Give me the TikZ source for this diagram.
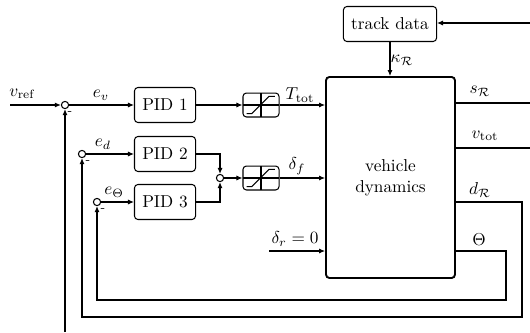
\documentclass[tikz,border=0pt]{standalone}
\usepackage{amsmath}
\usepackage{amssymb}
\usetikzlibrary{arrows.meta}
\tikzset{
  block/.style={draw, rounded corners=2pt, minimum width=35.4pt, minimum height=20.3pt, inner sep=0pt},
  sumnode/.style={draw, circle, minimum size=4.2pt, inner sep=0pt},
  satblock/.style={draw, rounded corners=2pt, minimum width=20.9pt, minimum height=13.9pt, inner sep=0pt,
    path picture={
      \draw[sharp corners] (path picture bounding box.west) -- (path picture bounding box.east);
      \draw[sharp corners] (path picture bounding box.north) -- (path picture bounding box.south);
      \draw[sharp corners] ([shift={(-8.4pt,-5pt)}]path picture bounding box.center) -- ++(3pt,0pt) -- ++(10pt,10pt) -- ++(3.5pt,0pt);
    }},
  minus/.style={font=\scriptsize, inner sep=0pt},
}

\begin{document}
\begin{tikzpicture}[x=0.58pt, y=-0.58pt, semithick, >={Latex[length=3.5pt,width=3pt]}]
	\useasboundingbox (0,0) rectangle (530,332);
	
	% blocks
	\node[block, minimum width=54pt] (track) at (390,24) {track data};
	\node[draw, rounded corners=2pt, line width=1.1pt, minimum width=74.8pt, minimum height=116.6pt, align=center] (veh) at (390.5,177.5) {vehicle\\dynamics};
	\node[block] (pid1) at (165,105) {PID 1};
	\node[block] (pid2) at (165,154) {PID 2};
	\node[block] (pid3) at (165,202) {PID 3};
	\node[satblock] (sat1) at (261,105) {};
	\node[satblock] (sat2) at (261,178) {};
	
	% summing points
	\node[sumnode] (sumv) at (65,105) {};
	\node[sumnode] (sumd) at (82,154) {};
	\node[sumnode] (sumt) at (97,202) {};
	\node[sumnode] (sumf) at (220,178) {};
	\node[minus] (mv) at (70,113) {-};
	\node[minus] (md) at (88,162) {-};
	\node[minus] (mt) at (103,210) {-};
	
	% forward path
	\coordinate (vin) at (10,105);
	\draw[->] (vin) -- (sumv);
	\draw[->] (sumv) -- (pid1);
	\draw[->] (sumd) -- (pid2);
	\draw[->] (sumt) -- (pid3);
	\draw[->] (pid1) -- (sat1);
	\draw[->] (pid2) -| (sumf);
	\draw[->] (pid3) -| (sumf);
	\draw[->] (sumf) -- (sat2);
	\draw[->] (sat1) -- (sat1 -| veh.west);
	\draw[->] (sat2) -- (sat2 -| veh.west);
	\coordinate (drin) at (269,251);
	\draw[->] (drin) -- (drin -| veh.west);
	\draw[->] (track) -- (track |- veh.north);
	\coordinate (trackin) at (530,23);
	\draw[->] (trackin) -- (trackin -| track.east);
	
	% outputs
	\coordinate (sout) at (530,103);
	\draw (veh.east |- sout) -- (sout);
	\coordinate (vout) at (530,148);
	\draw (veh.east |- vout) -- (vout);
	
	% feedback
	\coordinate (dout) at (522,202);
	\draw[->] (veh.east |- dout) -- (dout) -- (522,317) -| (sumd);
	\coordinate (tout) at (506,251);
	\draw[->] (veh.east |- tout) -- (tout) -- (506,300) -| (sumt);
	\coordinate (vfb) at (65,332);
	\draw[->] (vfb) -- (sumv);
	
	% labels
	\node (lvref) at (22,94) {$v_{\text{ref}}$};
	\node (lev) at (101,95) {$e_v$};
	\node (led) at (103,144) {$e_d$};
	\node (let) at (114,192) {$e_\Theta$};
	\node (lT) at (300,95) {$T_{\text{tot}}$};
	\node (ldf) at (297,166) {$\delta_f$};
	\node (ldr) at (295,239) {$\delta_r = 0$};
	\node (lk) at (402,60) {$\kappa_{\mathcal{R}}$};
	\node (ls) at (480,91) {$s_{\mathcal{R}}$};
	\node (lv) at (485,136) {$v_{\text{tot}}$};
	\node (ld) at (480,190) {$d_{\mathcal{R}}$};
	\node (lth) at (479,240) {$\Theta$};
\end{tikzpicture}
\end{document}
